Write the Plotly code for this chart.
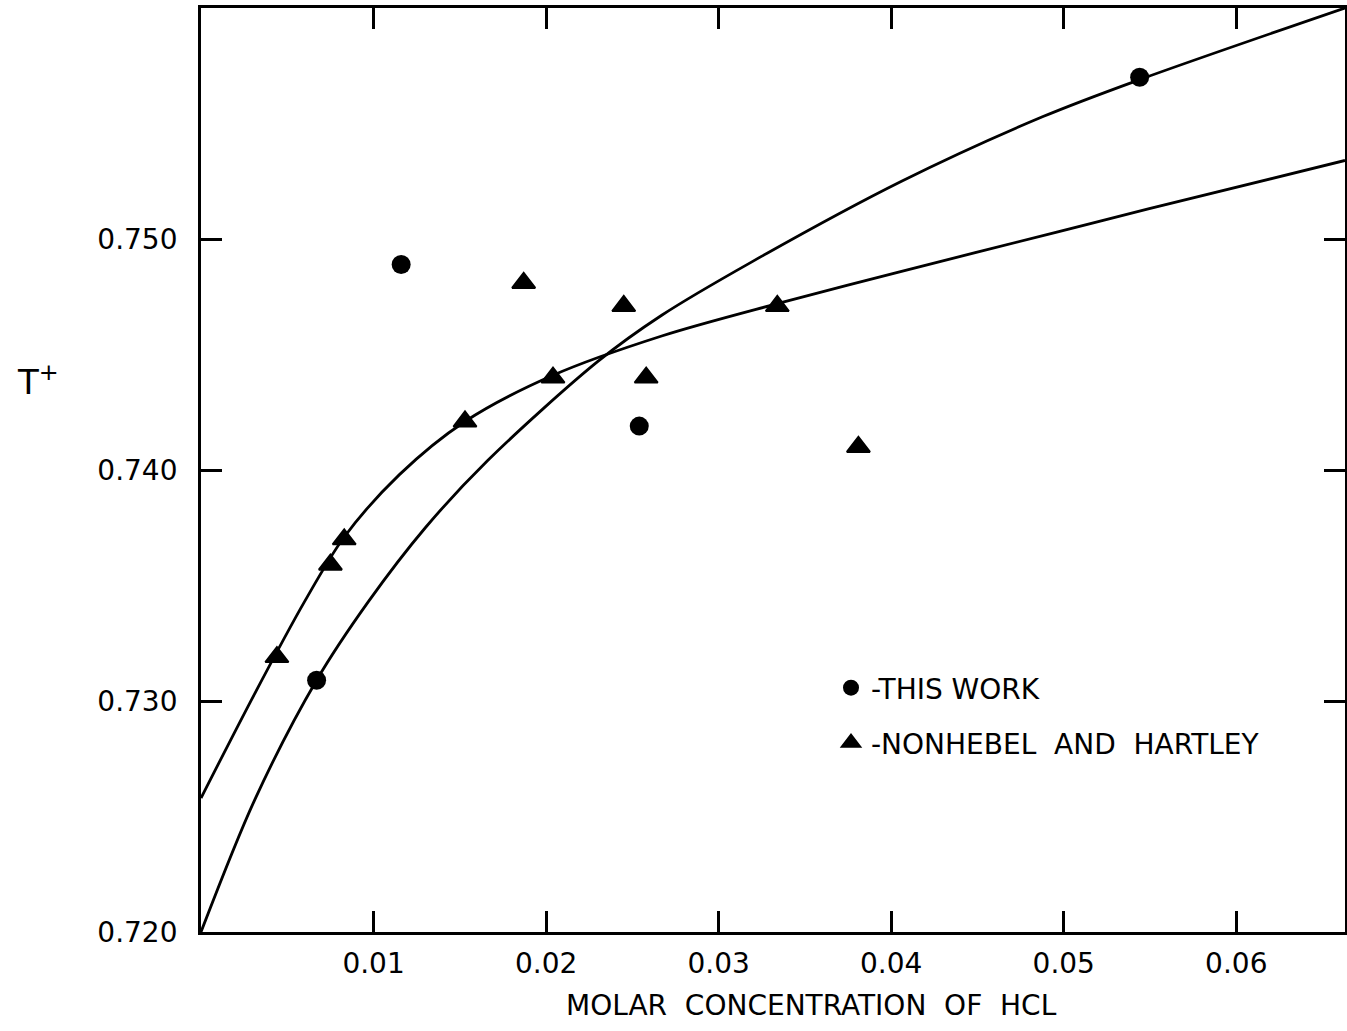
import plotly.graph_objects as go

# ---- data ----
# "This work" (circles)
this_work_x = [0.0067, 0.0116, 0.0254, 0.0544]
this_work_y = [0.7309, 0.7489, 0.7419, 0.7570]

# "Nonhebel and Hartley" (triangles)
nh_x = [0.0044, 0.0075, 0.0083, 0.0153, 0.0187, 0.0204, 0.0245, 0.0258, 0.0334, 0.0381]
nh_y = [0.7319, 0.7359, 0.7370, 0.7421, 0.7481, 0.7440, 0.7471, 0.7440, 0.7471, 0.7410]

# Smooth curves
curve_this_x = [0.0, 0.0031, 0.0067, 0.0097, 0.0130, 0.0166, 0.0230, 0.0267,
                0.0319, 0.0406, 0.0488, 0.0544, 0.0663]
curve_this_y = [0.7200, 0.7257, 0.7309, 0.7343, 0.7375, 0.7404, 0.7447, 0.7467,
                0.7490, 0.7525, 0.7553, 0.7569, 0.7600]

curve_nh_x = [0.0, 0.0031, 0.0060, 0.0083, 0.0115, 0.0153, 0.0204,
              0.0267, 0.0334, 0.0406, 0.0496, 0.0549, 0.0663]
curve_nh_y = [0.7258, 0.7303, 0.7343, 0.7371, 0.7398, 0.7421, 0.7441,
              0.7458, 0.7472, 0.7486, 0.7503, 0.7513, 0.7534]

x_ticks = [0.01, 0.02, 0.03, 0.04, 0.05, 0.06]
x_tick_labels = ["0.01", "0.02", "0.03", "0.04", "0.05", "0.06"]
y_ticks = [0.720, 0.730, 0.740, 0.750]
y_tick_labels = ["0.720", "0.730", "0.740", "0.750"]

FONT = "DejaVu Sans"
INK = "black"

fig = go.Figure()

fig.add_trace(go.Scatter(x=curve_this_x, y=curve_this_y, mode="lines",
                         line=dict(color=INK, width=2.8, shape="spline", smoothing=0.9),
                         showlegend=False, hoverinfo="skip"))
fig.add_trace(go.Scatter(x=curve_nh_x, y=curve_nh_y, mode="lines",
                         line=dict(color=INK, width=2.8, shape="spline", smoothing=0.9),
                         showlegend=False, hoverinfo="skip"))

fig.add_trace(go.Scatter(x=this_work_x, y=this_work_y, mode="markers",
                         marker=dict(symbol="circle", size=19, color=INK),
                         name="-THIS WORK", legend="legend"))
fig.add_trace(go.Scatter(x=nh_x, y=nh_y, mode="markers",
                         marker=dict(symbol="triangle-up", size=20, color=INK,
                                     line=dict(color=INK, width=2)),
                         name="-NONHEBEL  AND  HARTLEY", legend="legend2"))

L, R, T, B = 201, 2, 8, 99
W, H = 1347, 1031
pw, ph = W - L - R, H - T - B

def px_x(p):
    return (p - L) / pw

def px_y(p):
    return (H - B - p) / ph

legend_common = dict(font=dict(family=FONT, size=28, color=INK), bgcolor="rgba(0,0,0,0)",
                     xanchor="left", yanchor="middle", itemsizing="trace")

fig.update_layout(
    template="none",
    width=W, height=H,
    margin=dict(l=L, r=R, t=T, b=B, autoexpand=False),
    plot_bgcolor="white", paper_bgcolor="white",
    font=dict(family=FONT, color=INK),
    legend=dict(x=px_x(831), y=px_y(688), **legend_common),
    legend2=dict(x=px_x(831), y=px_y(743), **legend_common),
)

axis_common = dict(ticks="inside", ticklen=21, tickwidth=2.5, tickcolor=INK,
                   showline=True, linewidth=2.8, linecolor=INK, mirror="ticks",
                   showgrid=False, zeroline=False, automargin=False,
                   tickfont=dict(family=FONT, size=28, color=INK))

fig.update_xaxes(range=[0.0, 0.0663], tickvals=x_ticks, ticktext=x_tick_labels,
                 ticklabelstandoff=4, **axis_common)
fig.update_yaxes(range=[0.720, 0.760], tickvals=y_ticks, ticktext=y_tick_labels,
                 ticklabelstandoff=15, **axis_common)

fig.add_annotation(text="MOLAR  CONCENTRATION  OF  HCL", xref="paper", yref="paper",
                   x=px_x(811), y=px_y(1005), xanchor="center", yanchor="middle",
                   showarrow=False, font=dict(family=FONT, size=28, color=INK))
fig.add_annotation(text="T<sup>+</sup>", xref="paper", yref="paper",
                   x=px_x(38), y=px_y(380), xanchor="center", yanchor="middle",
                   showarrow=False, font=dict(family=FONT, size=34, color=INK))

fig.write_html("out.html", config={"displayModeBar": False},
               post_script="document.body.style.margin='0px';document.body.style.overflow='hidden';")
